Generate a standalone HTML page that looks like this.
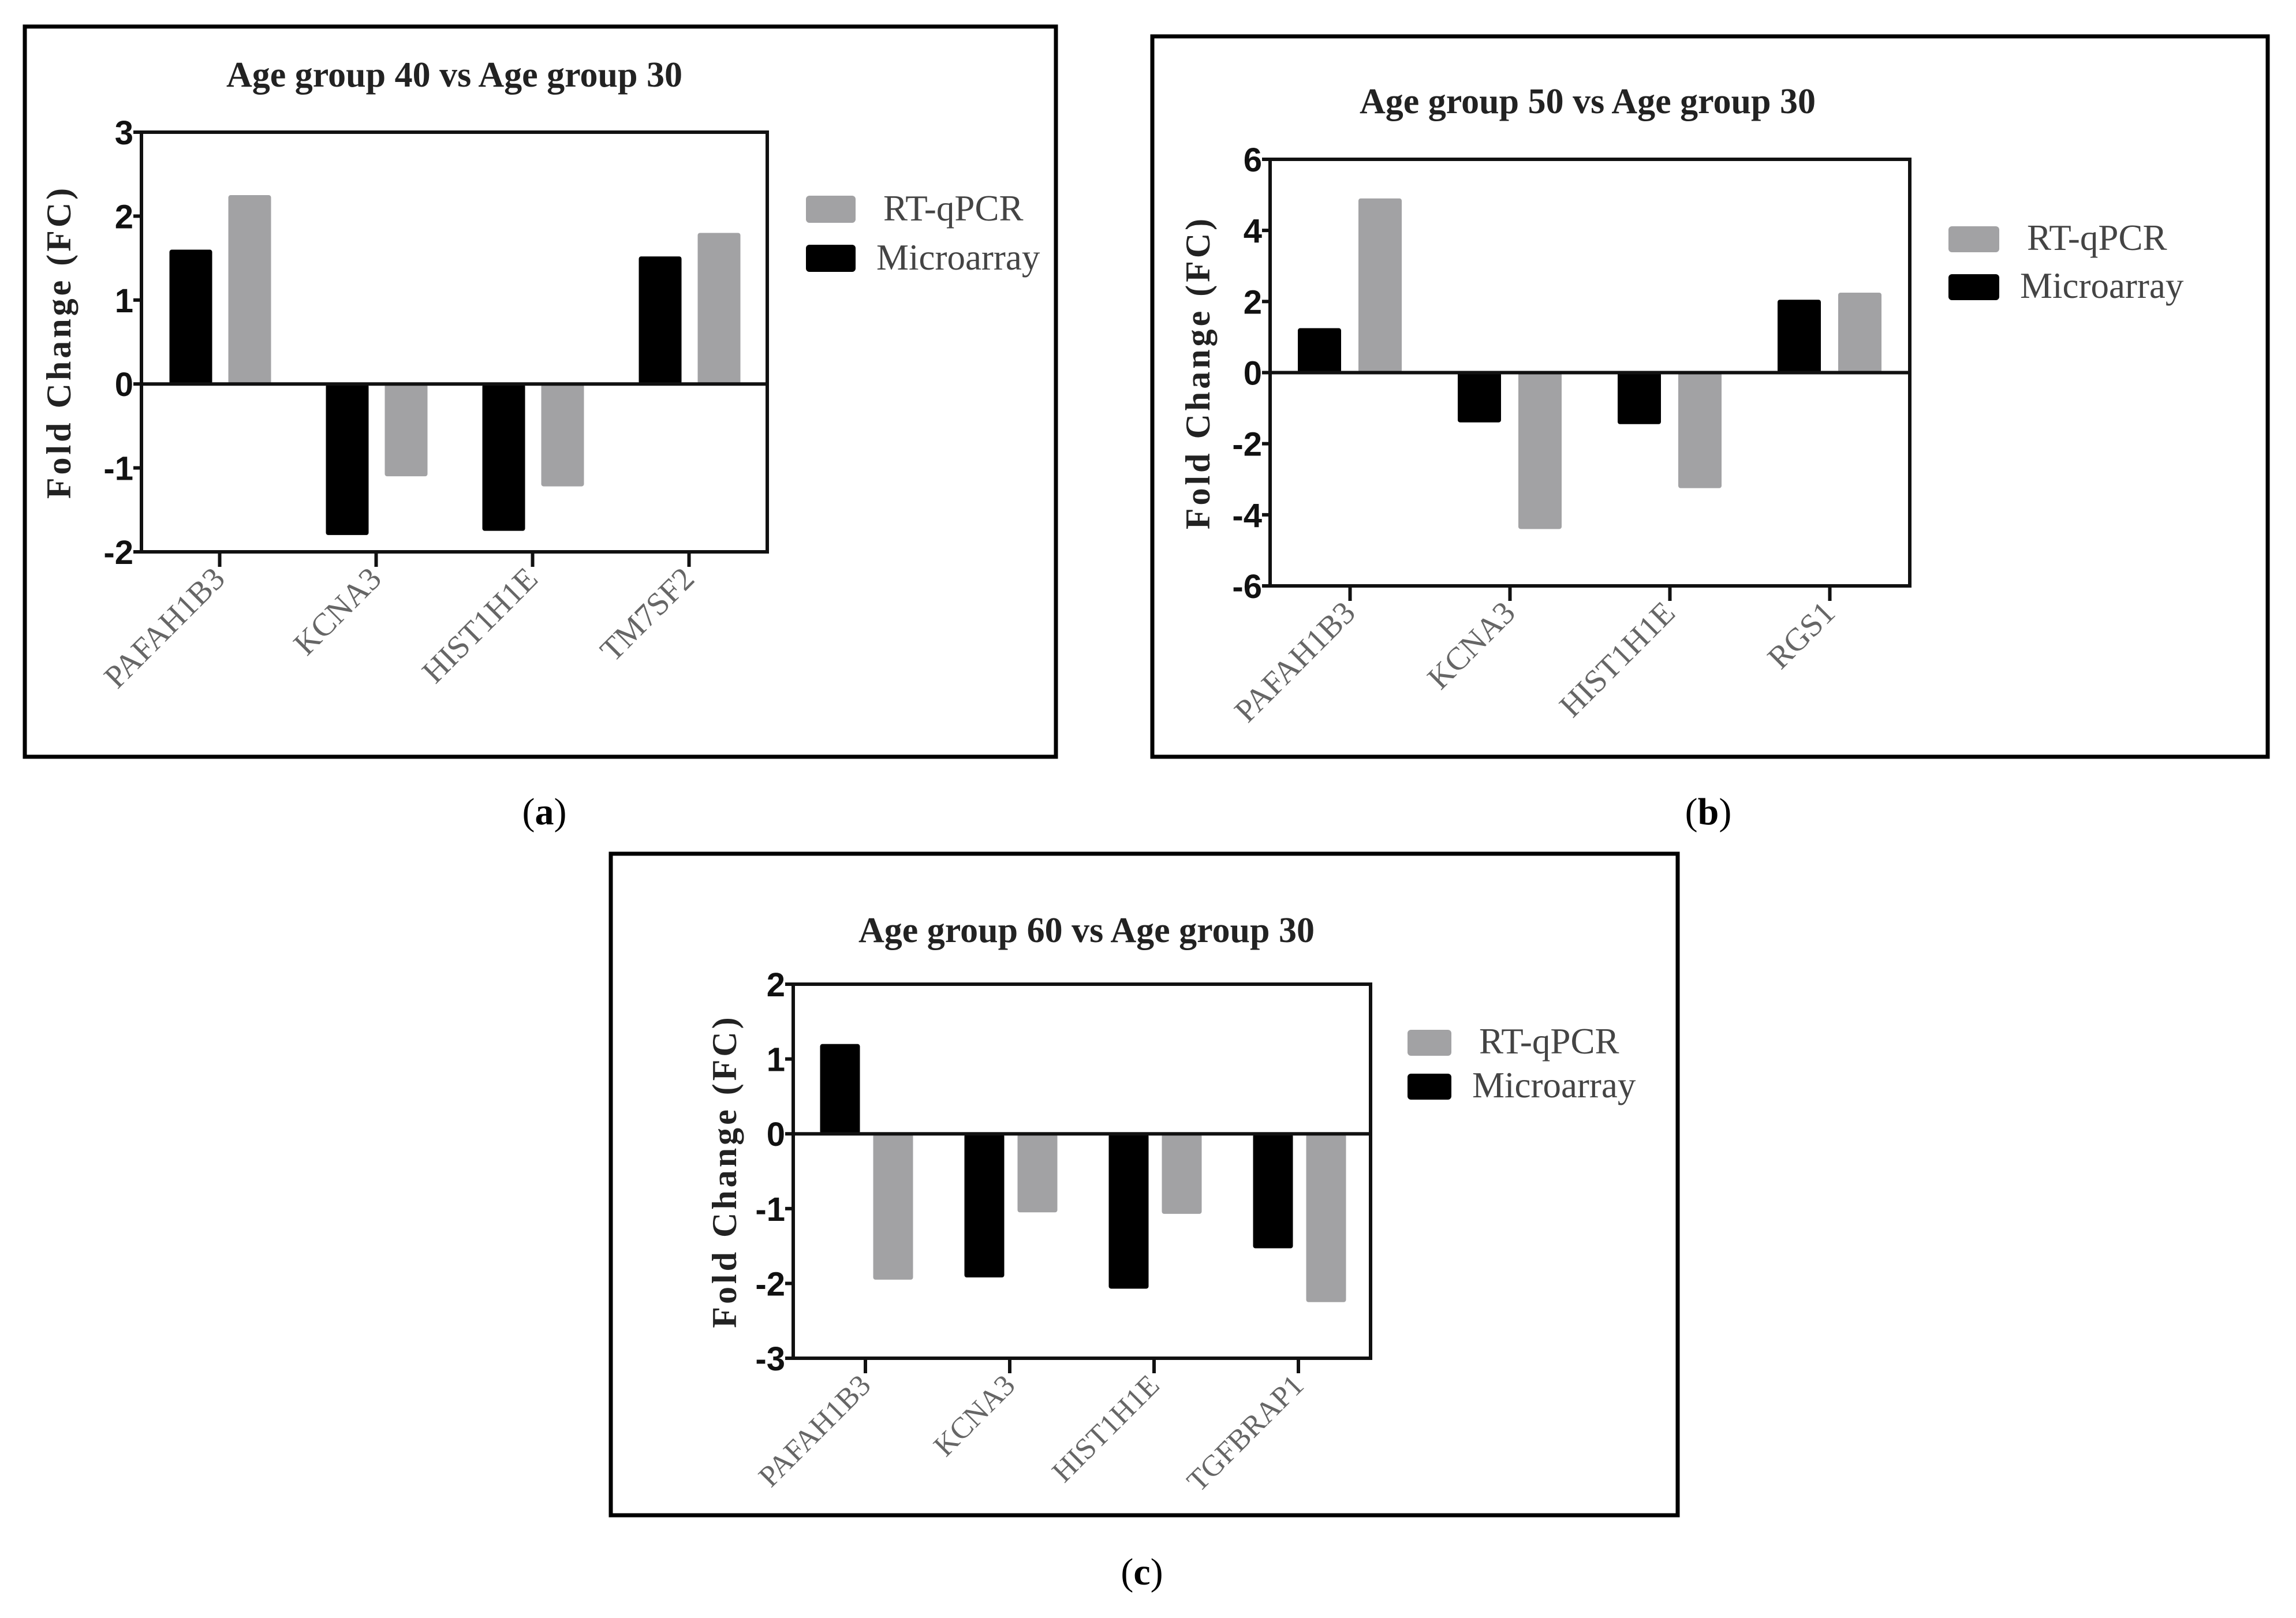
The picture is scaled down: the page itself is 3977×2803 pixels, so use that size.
<!DOCTYPE html>
<html><head><meta charset="utf-8"><style>
html,body{margin:0;padding:0;background:#fff;}
svg{display:block;}
</style></head><body>
<svg id="fig" width="3977" height="2803" viewBox="0 0 3977 2803" xmlns="http://www.w3.org/2000/svg">
<rect x="0" y="0" width="3977" height="2803" fill="#fff"/>
</svg>
<script>
const catsA = ["PAFAH1B3","KCNA3","HIST1H1E","TM7SF2"];
const microA = [1.6,-1.8,-1.75,1.52];
const rtA = [2.25,-1.1,-1.22,1.8];
const ticksA = [3,2,1,0,-1,-2];

const catsB = ["PAFAH1B3","KCNA3","HIST1H1E","RGS1"];
const microB = [1.25,-1.4,-1.45,2.05];
const rtB = [4.9,-4.4,-3.25,2.25];
const ticksB = [6,4,2,0,-2,-4,-6];

const catsC = ["PAFAH1B3","KCNA3","HIST1H1E","TGFBRAP1"];
const microC = [1.2,-1.92,-2.07,-1.53];
const rtC = [-1.95,-1.05,-1.07,-2.25];
const ticksC = [2,1,0,-1,-2,-3];

const NS="http://www.w3.org/2000/svg";
const svg=document.getElementById('fig');
function mk(tag,attrs,parent,text){
  const e=document.createElementNS(NS,tag);
  for(const k in attrs) e.setAttribute(k,attrs[k]);
  if(text!==undefined) e.textContent=text;
  (parent||svg).appendChild(e);
  return e;
}

function panel(p){
  const g=mk('g',{});
  
  
  const fr=mk('rect',{x:p.fx,y:p.fy,width:p.fw,height:p.fh,fill:'none',stroke:'#000','stroke-width':7},g);
  
  
  const t=mk('text',{x:p.tx,y:p.ty,'text-anchor':'middle','font-family':'Liberation Serif, serif','font-weight':'bold','font-size':62,fill:'#222'},g,p.title);
  
  
  const ymin=p.ticks[p.ticks.length-1], ymax=p.ticks[0];
  const Y=v=>p.pt+(ymax-v)/(ymax-ymin)*(p.pb-p.pt);
  const step=(p.pr-p.pl)/p.cats.length;
  const X=i=>p.pl+step*(i+0.5)+p.shift;
  const bw=p.bw;
  for(let i=0;i<p.cats.length;i++){
    const z=Y(0);
    const m=p.micro[i], r=p.rt[i];
    const ym=Y(m);
    const bm=mk('rect',{x:X(i)-p.off-bw/2,y:Math.min(z,ym),width:bw,height:Math.abs(ym-z),fill:'#000',rx:4},g);
    
    
    const yr=Y(r);
    const br=mk('rect',{x:X(i)+p.off2-bw/2,y:Math.min(z,yr),width:bw,height:Math.abs(yr-z),fill:'#a2a2a4',rx:4},g);
    
    
  }
  const box=mk('rect',{x:p.pl,y:p.pt,width:p.pr-p.pl,height:p.pb-p.pt,fill:'none',stroke:'#111','stroke-width':6},g);
  
  
  const zl=mk('line',{x1:p.pl,x2:p.pr,y1:Y(0),y2:Y(0),stroke:'#111','stroke-width':6},g);
  
  
  p.ticks.forEach(v=>{
    mk('line',{x1:p.pl-14,x2:p.pl,y1:Y(v),y2:Y(v),stroke:'#111','stroke-width':6},g);
    const tl=mk('text',{x:p.pl-14,y:Y(v)+21,'text-anchor':'end','font-family':'Liberation Sans, sans-serif','font-weight':'bold','font-size':58,fill:'#111'},g,String(v));
    
    
  });
  p.cats.forEach((c,i)=>{
    const tx=p.pl+step*(i+0.5)+p.tshift;
    mk('line',{x1:tx,x2:tx,y1:p.pb,y2:p.pb+26,stroke:'#111','stroke-width':6},g);
    const lx=tx+12, ly=p.pb+50;
    const cl=mk('text',{x:lx,y:ly,'text-anchor':'end','font-family':'Liberation Serif, serif','font-size':p.lfs,fill:'#666',transform:`rotate(-45 ${lx} ${ly})`},g,c);
    
    
  });
  const cy=(p.pt+p.pb)/2;
  const at=mk('text',{x:p.ax,y:cy,'text-anchor':'middle','font-family':'Liberation Serif, serif','font-weight':'bold','font-size':60,fill:'#222',transform:`rotate(-90 ${p.ax} ${cy})`,'letter-spacing':5},g,'Fold Change (FC)');
  
  
  const l1=mk('rect',{x:p.lgx,y:p.lgy,width:p.lsw,height:p.lsh,fill:'#a2a2a4',rx:6},g);
  
  
  const lt1=mk('text',{x:p.lgx+p.lsw+48,y:p.lgy+p.lsh-4,'font-family':'Liberation Serif, serif','font-size':63,fill:'#444'},g,'RT-qPCR');
  
  
  const l2=mk('rect',{x:p.lgx,y:p.lgy+p.lgap,width:p.lsw,height:p.lsh,fill:'#000',rx:6},g);
  
  
  const lt2=mk('text',{x:p.lgx+p.lsw+36,y:p.lgy+p.lgap+p.lsh-4,'font-family':'Liberation Serif, serif','font-size':63,fill:'#444'},g,'Microarray');
  
  
  const cap=mk('text',{x:p.cx,y:p.cyy,'text-anchor':'middle','font-family':'Liberation Serif, serif','font-size':66,fill:'#000'},g);
  
  
  mk('tspan',{},cap,'(');
  mk('tspan',{'font-weight':'bold'},cap,p.letter);
  mk('tspan',{},cap,')');
}

panel({id:'panel-a',title:'Age group 40 vs Age group 30',cats:catsA,micro:microA,rt:rtA,ticks:ticksA,
  fx:43,fy:46,fw:1786,fh:1265,tx:787,ty:150,pl:245,pr:1329,pt:229,pb:956,shift:0,tshift:0,
  bw:74,off:50,off2:52,lfs:56,ax:122,lgx:1396,lgy:339,lsw:86,lsh:47,lgap:85,cx:943,cyy:1428,letter:'a'});
panel({id:'panel-b',title:'Age group 50 vs Age group 30',cats:catsB,micro:microB,rt:rtB,ticks:ticksB,
  fx:1996,fy:63,fw:1932,fh:1248,tx:2750,ty:196,pl:2200,pr:3308,pt:276,pb:1015,shift:0,tshift:0,
  bw:75,off:53,off2:52,lfs:56,ax:2095,lgx:3375,lgy:392,lsw:88,lsh:45,lgap:83,cx:2959,cyy:1428,letter:'b'});
panel({id:'panel-c',title:'Age group 60 vs Age group 30',cats:catsC,micro:microC,rt:rtC,ticks:ticksC,
  fx:1058,fy:1479,fw:1848,fh:1146,tx:1882,ty:1632,pl:1374,pr:2374,pt:1705,pb:2353,shift:0,tshift:0,
  bw:69,off:44,off2:48,lfs:52,ax:1275,lgx:2438,lgy:1784,lsw:76,lsh:45,lgap:76,cx:1978,cyy:2745,letter:'c'});
</script>
</body></html>
